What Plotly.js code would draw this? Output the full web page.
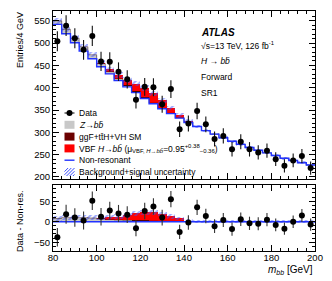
<!DOCTYPE html>
<html><head><meta charset="utf-8">
<script src="https://cdn.plot.ly/plotly-3.0.1.min.js"></script>
<style>html,body{margin:0;padding:0;background:#fff}#chart{width:332px;height:281px}</style>
</head><body><div id="chart"></div>
<script>
// ---- data ----
const binCenters = [82,86,90,94,98,102,106,110,114,118,122,126,130,134,138,142,146,150,154,158,162,166,170,174,178,182,186,190,194,198];
const binWidth = 4;
const dataCounts = [504,539,511,485,516,459,458,436,419,373,402,401,363,397,307,320,348,318,285,292,262,279,262,255,259,240,225,237,247,220];
const nonResonant = [542,521,501,482,465,447,431,416,402,389,376,364,353,342,332,322,313,304,296,288,280,273,266,260,254,248,242,237,232,227];
const zbb = [8,10,10,10,9,7,5,4,3,2.5,2,1.5,1,0.7,0.5,0.3,0.2,0.1,0,0,0,0,0,0,0,0,0,0,0,0];
const ggfH = [0,0,0,0,0,0,0,0.2,0.4,0.7,1,1,0.8,0.5,0.3,0.1,0,0,0,0,0,0,0,0,0,0,0,0,0,0];
const vbfH = [0,0,0,0,0.5,2.5,5.5,8,12,17,20.5,21,17.5,11.5,7,2.5,0.8,0.3,0,0,0,0,0,0,0,0,0,0,0,0];
const bkgSigUnc = [7,7,6.5,6.5,6,6,6,6,6,6,6,6,5.5,5,4.5,4,3.5,3,3,3,3,3,3,3,3,3,3,3,3,3];

// ---- derived ----
const n = binCenters.length;
const edges = binCenters.map(c => c - binWidth/2).concat([binCenters[n-1] + binWidth/2]);
const stepY = arr => arr.concat([arr[n-1]]);
const widths = binCenters.map(() => binWidth);
const add = (a,b) => a.map((v,i) => v + b[i]);
const zeros = binCenters.map(() => 0);
const dataErr = dataCounts.map(v => Math.sqrt(v));
const diff = dataCounts.map((v,i) => v - nonResonant[i]);

function stackTraces(base, xa, ya) {
  const b1 = base, b2 = add(b1, zbb), b3 = add(b2, ggfH), top = add(b3, vbfH);
  return [
    {type:'bar', x:binCenters, y:zbb, base:b1, width:widths, xaxis:xa, yaxis:ya,
     marker:{color:'#c8c8c8', line:{width:0}}, hoverinfo:'skip'},
    {type:'bar', x:binCenters, y:ggfH, base:b2, width:widths, xaxis:xa, yaxis:ya,
     marker:{color:'#6b0000', line:{width:0}}, hoverinfo:'skip'},
    {type:'bar', x:binCenters, y:vbfH, base:b3, width:widths, xaxis:xa, yaxis:ya,
     marker:{color:'#ff0000', line:{width:0}}, hoverinfo:'skip'},
    {type:'scatter', mode:'lines', x:edges, y:stepY(b2), xaxis:xa, yaxis:ya,
     line:{shape:'hv', color:'rgba(40,0,0,0.55)', width:0.8}, hoverinfo:'skip'},
    {type:'bar', x:binCenters, y:bkgSigUnc.map(u => 2*u), base:top.map((t,i) => t - bkgSigUnc[i]),
     width:widths, xaxis:xa, yaxis:ya,
     marker:{color:'rgba(0,0,0,0)', line:{width:0},
             pattern:{shape:'/', fgcolor:'#3a4dff', bgcolor:'rgba(0,0,0,0)', size:4, solidity:0.5, fillmode:'overlay'}},
     hoverinfo:'skip'},
    {type:'scatter', mode:'lines', x:edges, y:stepY(base), xaxis:xa, yaxis:ya,
     line:{shape:'hv', color:'#2233ff', width:1.4}, hoverinfo:'skip'}
  ];
}

const traces = []
  .concat(stackTraces(nonResonant, 'x2', 'y'))
  .concat([{type:'scatter', mode:'markers', x:binCenters, y:dataCounts, xaxis:'x2', yaxis:'y',
     marker:{color:'#000', size:6},
     error_y:{type:'data', array:dataErr, visible:true, color:'#111', thickness:1.1, width:0}}])
  .concat(stackTraces(zeros, 'x', 'y2'))
  .concat([{type:'scatter', mode:'markers', x:binCenters, y:diff, xaxis:'x', yaxis:'y2',
     marker:{color:'#000', size:6},
     error_y:{type:'data', array:dataErr, visible:true, color:'#333', thickness:1.1, width:0}}]);

// ---- layout helpers (pixel -> paper) ----
const L = 53, R = 17, T = 11, B = 30, W = 332, H = 281;
const pw = W - L - R, ph = H - T - B;
const px = v => (v - L) / pw;
const py = v => (H - B - v) / ph;

const font = 'Liberation Sans, Arial, sans-serif';
const axisCommon = {
  showline:true, linecolor:'#000', linewidth:1, mirror:'allticks',
  ticks:'inside', ticklen:6, tickcolor:'#000', tickwidth:1,
  showgrid:false, zeroline:false,
  tickfont:{family:font, size:9.5, color:'#000'}
};

const legendRows = [113, 124.8, 136.6, 148.4, 160.2, 172];
const legendText = [
  'Data',
  '<i>Z</i>→<i>b</i><i>b\u0304</i>',
  'ggF+t<span>t\u0304</span>H+VH SM',
  'VBF <i>H</i>→<i>b</i><i>b\u0304</i> (μ<sub>VBF, <i>H</i>→<i>bb\u0304</i></sub>=0.95<sup>+0.38</sup><sub>−0.36</sub>)',
  'Non-resonant',
  'Background+signal uncertainty'
];
const symX0 = 64.5, symX1 = 74.5, symH = 4;

const annotations = legendText.map((t,i) => ({
  xref:'paper', yref:'paper', x:px(77), y:py(legendRows[i]), xanchor:'left', yanchor:'middle',
  text:t, showarrow:false, font:{family:font, size:8.5, color:'#000'}
})).concat([
  {xref:'paper', yref:'paper', x:px(199), y:py(32), xanchor:'left', yanchor:'middle', showarrow:false,
   text:'<b><i>ATLAS</i></b>', font:{family:font, size:10, color:'#000'}},
  {xref:'paper', yref:'paper', x:px(199), y:py(45), xanchor:'left', yanchor:'middle', showarrow:false,
   text:'√s=13 TeV, 126 fb<sup>-1</sup>', font:{family:font, size:8.5, color:'#000'}},
  {xref:'paper', yref:'paper', x:px(199), y:py(61), xanchor:'left', yanchor:'middle', showarrow:false,
   text:'<i>H</i> → <i>b</i><i>b\u0304</i>', font:{family:font, size:8.5, color:'#000'}},
  {xref:'paper', yref:'paper', x:px(199), y:py(77), xanchor:'left', yanchor:'middle', showarrow:false,
   text:'Forward', font:{family:font, size:8.5, color:'#000'}},
  {xref:'paper', yref:'paper', x:px(199), y:py(93), xanchor:'left', yanchor:'middle', showarrow:false,
   text:'SR1', font:{family:font, size:8.5, color:'#000'}},
  {xref:'paper', yref:'paper', x:px(20), y:py(40), xanchor:'center', yanchor:'middle', showarrow:false,
   textangle:-90, text:'Entries/4 GeV', font:{family:font, size:9, color:'#000'}},
  {xref:'paper', yref:'paper', x:px(20), y:py(221), xanchor:'center', yanchor:'middle', showarrow:false,
   textangle:-90, text:'Data - Non-res.', font:{family:font, size:9, color:'#000'}},
  {xref:'paper', yref:'paper', x:1, y:py(270), xanchor:'right', yanchor:'middle', showarrow:false,
   text:'<i>m</i><sub><i>bb</i></sub> [GeV]', font:{family:font, size:10, color:'#000'}}
]);

const shapes = [
  {type:'line', xref:'paper', yref:'paper', x0:px(symX0), x1:px(symX1), y0:py(legendRows[0]), y1:py(legendRows[0]), line:{color:'#000', width:1}},
  {type:'circle', xref:'paper', yref:'paper', x0:px(66.5), x1:px(72.5), y0:py(legendRows[0]+3), y1:py(legendRows[0]-3), fillcolor:'#000', line:{width:0}},
  {type:'rect', xref:'paper', yref:'paper', x0:px(symX0), x1:px(symX1), y0:py(legendRows[1]+symH), y1:py(legendRows[1]-symH), fillcolor:'#c8c8c8', line:{width:0}},
  {type:'rect', xref:'paper', yref:'paper', x0:px(symX0), x1:px(symX1), y0:py(legendRows[2]+symH), y1:py(legendRows[2]-symH), fillcolor:'#6b0000', line:{width:0}},
  {type:'rect', xref:'paper', yref:'paper', x0:px(symX0), x1:px(symX1), y0:py(legendRows[3]+symH), y1:py(legendRows[3]-symH), fillcolor:'#ff0000', line:{width:0}},
  {type:'line', xref:'paper', yref:'paper', x0:px(symX0), x1:px(symX1), y0:py(legendRows[4]), y1:py(legendRows[4]), line:{color:'#2233ff', width:1.4}}
];
(function(){
  const yc = legendRows[5], y0 = yc + symH;
  let d = '';
  for (let k = -2; k <= 2; k++) {
    const xs = symX0 + 2 + k*3.2;
    const xa = Math.max(symX0, xs), xb = Math.min(symX1, xs + 8);
    const ya = y0 - (xa - xs), yb = y0 - (xb - xs);
    if (xb > xa) d += 'M' + px(xa) + ',' + py(ya) + 'L' + px(xb) + ',' + py(yb);
  }
  shapes.push({type:'path', xref:'paper', yref:'paper', path:d, line:{color:'#3a4dff', width:1}});
})();

const layout = {
  width:W, height:H,
  margin:{l:L, r:R, t:T, b:B, pad:0},
  paper_bgcolor:'#fff', plot_bgcolor:'rgba(0,0,0,0)',
  showlegend:false, barmode:'overlay', bargap:0,
  font:{family:font, color:'#000'},
  xaxis: Object.assign({}, axisCommon, {domain:[0,1], anchor:'y2', range:[80,200], dtick:20, tick0:80,
     ticklabelstandoff:-2,
     minor:{ticks:'inside', ticklen:3, dtick:4, tick0:80, tickcolor:'#000'}}),
  xaxis2: Object.assign({}, axisCommon, {domain:[0,1], anchor:'y', matches:'x', range:[80,200], dtick:20, tick0:80,
     showticklabels:false, minor:{ticks:'inside', ticklen:3, dtick:4, tick0:80, tickcolor:'#000'}}),
  yaxis: Object.assign({}, axisCommon, {domain:[0.3,1], anchor:'x2', range:[195.5,572], dtick:50, tick0:0,
     minor:{ticks:'inside', ticklen:3, dtick:10, tickcolor:'#000'}}),
  yaxis2: Object.assign({}, axisCommon, {domain:[0,0.275], anchor:'x', range:[-71.5,89.5], dtick:50, tick0:0,
     minor:{ticks:'inside', ticklen:3, dtick:10, tickcolor:'#000'}}),
  annotations: annotations,
  shapes: shapes
};

Plotly.newPlot('chart', traces, layout, {staticPlot:true, displayModeBar:false});
</script></body></html>
